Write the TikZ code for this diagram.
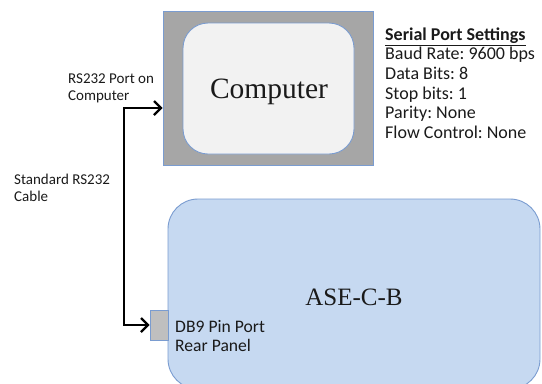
\documentclass[tikz,border=0pt]{standalone}
\usepackage{fontspec}
\newfontfamily\calfont{Carlito}
\newfontfamily\serfont{Liberation Serif}
\usetikzlibrary{arrows.meta}
\frenchspacing
\definecolor{pcgray}{HTML}{A6A6A6}
\definecolor{pcin}{HTML}{F2F2F2}
\definecolor{bluebrd}{HTML}{7A9CD0}
\definecolor{asefill}{HTML}{C6D9F1}
\definecolor{portfill}{HTML}{BFBFBF}
\definecolor{txt}{HTML}{1A1A1A}
\tikzset{
  box/.style={draw=bluebrd, line width=0.9bp},
  lbl/.style={font=\calfont\fontsize{15bp}{17bp}\selectfont, text=txt, align=left, anchor=west, inner sep=0pt},
  setlbl/.style={font=\calfont\fontsize{18bp}{19.6bp}\selectfont, text=txt, align=left, anchor=west, inner sep=0pt},
  dblbl/.style={font=\calfont\fontsize{17.6bp}{19bp}\selectfont, text=txt, align=left, anchor=west, inner sep=0pt},
  cable/.style={line width=2.2bp, {Straight Barb[length=7bp,width=14bp]}-{Straight Barb[length=7bp,width=14bp]}},
}
\begin{document}
\begin{tikzpicture}[x=1bp,y=-1bp]
\useasboundingbox (0,0) rectangle (542,383);
\clip (0,0) rectangle (542,383);
% computer
\node[box, fill=pcgray, minimum width=210bp, minimum height=154bp, inner sep=0pt] (pc) at (268,88) {};
\node[box, fill=pcin, rounded corners=25bp, minimum width=171bp, minimum height=131bp, inner sep=0pt] (pcinner) at (268.5,88.5) {};
\node[font=\serfont\fontsize{29.5bp}{34bp}\selectfont, text=txt, inner sep=0pt] (pctext) at (269,92) {Computer};
% ASE box
\node[box, fill=asefill, rounded corners=30bp, minimum width=372bp, minimum height=190bp, inner sep=0pt] (ase) at (354,294) {};
\node[font=\serfont\fontsize{25bp}{30bp}\selectfont, text=txt, inner sep=0pt] (asetext) at (354,297) {ASE-C-B};
% port
\node[box, fill=portfill, minimum width=18bp, minimum height=30bp, inner sep=0pt] (port) at (159,325) {};
% labels
\node[lbl] (rs) at (68,88.5) {RS232 Port on\\Computer};
\node[lbl] (cab) at (14,188) {Standard RS232\\Cable};
\node[dblbl] (db9) at (175,336) {DB9 Pin Port\\Rear Panel};
\node[setlbl] (settings) at (385,83) {\underline{\textbf{Serial Port Settings}}\\Baud Rate: 9600 bps\\Data Bits: 8\\Stop bits: 1\\Parity: None\\Flow Control: None};
% cable
\coordinate (pcport) at (pc.west|-0,108);
\coordinate (cabtop) at (124,108);
\coordinate (cabbot) at (124,325);
\draw[cable] (port.west) -- (cabbot) -- (cabtop) -- (pcport);
\end{tikzpicture}
\end{document}
